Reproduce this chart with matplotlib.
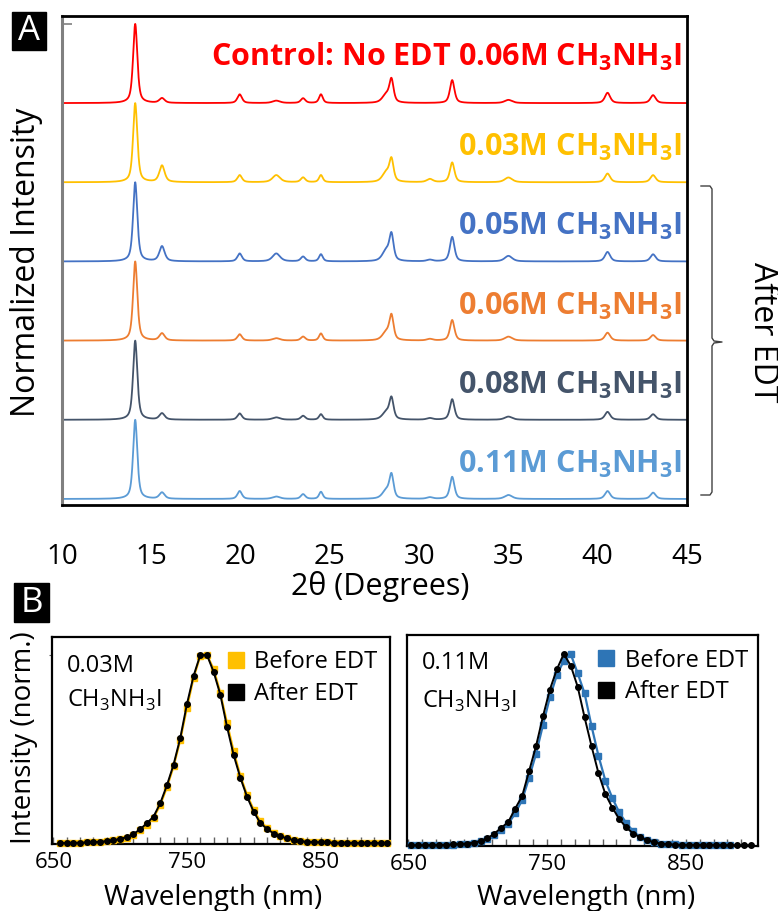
import numpy as np
import matplotlib
matplotlib.use('Agg')
import matplotlib.pyplot as plt
from matplotlib.lines import Line2D
from matplotlib.patches import Rectangle

plt.rcParams['font.family'] = ['Open Sans', 'DejaVu Sans']

# ---------------- Panel A data (XRD) ----------------
peak_pos = [14.1, 15.6, 19.95, 22.0, 23.5, 24.5, 28.15, 28.45, 30.6, 31.85, 35.0, 40.55, 43.1]
peak_fwhm = [0.28, 0.35, 0.30, 0.50, 0.30, 0.25, 0.50, 0.28, 0.40, 0.30, 0.50, 0.35, 0.35]

xrd_labels = ['Control: No EDT 0.06M CH$_\\mathregular{3}$NH$_\\mathregular{3}$I',
              '0.03M CH$_\\mathregular{3}$NH$_\\mathregular{3}$I',
              '0.05M CH$_\\mathregular{3}$NH$_\\mathregular{3}$I',
              '0.06M CH$_\\mathregular{3}$NH$_\\mathregular{3}$I',
              '0.08M CH$_\\mathregular{3}$NH$_\\mathregular{3}$I',
              '0.11M CH$_\\mathregular{3}$NH$_\\mathregular{3}$I']
xrd_colors = ['#FF0000', '#FFC000', '#4472C4', '#ED7D31', '#44546A', '#5B9BD5']
h_control = [1.0, 0.06, 0.11, 0.03, 0.06, 0.11, 0.10, 0.28, 0.00, 0.29, 0.04, 0.13, 0.10]
h_003 = [1.0, 0.21, 0.09, 0.09, 0.06, 0.09, 0.12, 0.27, 0.04, 0.25, 0.06, 0.11, 0.09]
h_005 = [1.0, 0.19, 0.10, 0.10, 0.06, 0.09, 0.13, 0.32, 0.02, 0.31, 0.07, 0.12, 0.09]
h_006 = [1.0, 0.09, 0.08, 0.03, 0.05, 0.09, 0.10, 0.30, 0.02, 0.26, 0.05, 0.10, 0.07]
h_008 = [1.0, 0.08, 0.08, 0.03, 0.05, 0.07, 0.09, 0.26, 0.02, 0.26, 0.04, 0.10, 0.07]
h_011 = [1.0, 0.08, 0.10, 0.03, 0.06, 0.09, 0.10, 0.29, 0.02, 0.28, 0.05, 0.10, 0.08]
xrd_heights = [h_control, h_003, h_005, h_006, h_008, h_011]
xrd_ticks = [10, 15, 20, 25, 30, 35, 40, 45]

# ---------------- Panel B data (PL) ----------------
wl_003 = np.arange(655, 905, 5)
pl_003_before = [.004, .005, .005, .006, .008, .009, .011, .014, .019, .025,
                 .034, .050, .072, .100, .140, .205, .300, .410, .550, .720,
                 .880, .995, 1.0, .925, .800, .640, .490, .360, .260, .180,
                 .120, .085, .058, .042, .032, .022, .016, .012, .010, .009,
                 .008, .007, .006, .006, .006, .005, .005, .005, .005, .005]
pl_003_after = [.005, .005, .006, .007, .008, .010, .012, .015, .020, .027,
                .037, .053, .078, .110, .145, .215, .310, .420, .560, .740,
                .890, 1.0, 1.0, .910, .790, .620, .470, .350, .250, .170,
                .110, .080, .055, .040, .030, .020, .015, .012, .010, .009,
                .008, .007, .007, .006, .006, .005, .005, .005, .005, .005]
wl_011_before = np.arange(652, 887, 5)
pl_011_before = [.005, .004, .004, .004, .005, .005, .007, .009, .012, .018,
                 .024, .036, .055, .082, .115, .170, .240, .355, .480, .630,
                 .775, .890, .965, 1.0, .900, .795, .625, .470, .340, .250,
                 .175, .120, .077, .045, .030, .020, .013, .010, .008, .007,
                 .006, .006, .005, .005, .005, .005, .005]
wl_011_after = np.arange(652, 902, 5)
pl_011_after = [.004, .004, .004, .005, .005, .006, .008, .010, .013, .018,
                .025, .040, .065, .095, .125, .195, .260, .390, .520, .675,
                .815, .920, 1.0, .940, .830, .670, .520, .380, .270, .200,
                .140, .097, .065, .046, .030, .020, .012, .009, .007, .006,
                .005, .005, .005, .005, .004, .004, .004, .004, .004, .004]
pl_ticks = [650, 750, 850]

W, H = 778, 911
fig = plt.figure(figsize=(7.78, 9.11), dpi=100)


def fx(px):
    return px / W


def fy(py):
    return 1 - py / H


# ================= Panel A =================
axA = fig.add_axes([fx(62), fy(505), fx(687) - fx(62), fy(16) - fy(505)])
tt = np.linspace(10, 45, 3501)


def profile(heights):
    y = np.zeros_like(tt)
    for c, w, h in zip(peak_pos, peak_fwhm, heights):
        u = (tt - c) / (w / 2)
        y += h * (0.6 / (1 + u ** 2) + 0.4 * np.exp(-np.log(2) * u ** 2))
    return y / y.max()


n = len(xrd_heights)
for i, (hts, col, lab) in enumerate(zip(xrd_heights, xrd_colors, xrd_labels)):
    off = n - 1 - i
    axA.plot(tt, profile(hts) + off, color=col, lw=1.3)
    dy = 0.47 if i == 0 else 0.33
    axA.text(44.72, off + dy, lab, color=col, fontsize=22, fontweight='bold',
             ha='right', va='baseline')

axA.set_xlim(10, 45)
axA.set_ylim(-0.076, 6.10)
axA.set_xticks(xrd_ticks)
axA.tick_params(axis='x', length=0, pad=27, labelsize=20)
axA.set_yticks([6.0])
axA.tick_params(axis='y', direction='in', length=7, width=1.2, color='#808080', labelleft=False)
for s in ['top', 'right', 'bottom']:
    axA.spines[s].set_color('black')
    axA.spines[s].set_linewidth(2)
axA.spines['left'].set_color('#808080')
axA.spines['left'].set_linewidth(2.2)

fig.text(fx(380), fy(587), '2θ (Degrees)', fontsize=22, ha='center', va='center')
fig.text(fx(27), fy(262), 'Normalized Intensity', fontsize=23, ha='center', va='center', rotation=90)
fig.text(fx(762), fy(332), 'After EDT', fontsize=23, ha='center', va='center', rotation=-90)

# bracket
bx = np.array([701, 710, 712, 712, 714, 722, 714, 712, 712, 710, 701])
by = np.array([186, 186, 189, 338, 341, 342, 343, 346, 492, 495, 495])
fig.add_artist(Line2D(fx(bx), fy(by), transform=fig.transFigure, color='#404040', lw=1.0))

# panel letters
fig.add_artist(Rectangle((fx(12), fy(50)), fx(46) - fx(12), fy(12) - fy(50),
                         transform=fig.transFigure, color='black'))
fig.text(fx(29), fy(31), 'A', color='white', fontsize=25, ha='center', va='center')
fig.add_artist(Rectangle((fx(14), fy(622)), fx(49) - fx(14), fy(583) - fy(622),
                         transform=fig.transFigure, color='black'))
fig.text(fx(31.5), fy(603), 'B', color='white', fontsize=25, ha='center', va='center')

# ================= Panel B =================
axB1 = fig.add_axes([fx(52), fy(844), fx(390) - fx(52), fy(637) - fy(844)])
axB2 = fig.add_axes([fx(407), fy(846), fx(758) - fx(407), fy(635) - fy(846)])

gold = '#FFC000'
blue = '#2E75B6'

axB1.plot(wl_003, pl_003_before, color=gold, lw=1.6, marker='s', ms=4.8, mec=gold, clip_on=False, zorder=3)
axB1.plot(wl_003, pl_003_after, color='black', lw=1.4, marker='o', ms=4.0, clip_on=False, zorder=4)
axB2.plot(wl_011_before, pl_011_before, color=blue, lw=1.6, marker='s', ms=4.8, mec=blue, clip_on=False, zorder=3)
axB2.plot(wl_011_after, pl_011_after, color='black', lw=1.4, marker='o', ms=4.0, clip_on=False, zorder=4)

for ax, ytop, conc, tx, y1, y2, legx, legc in [
        (axB1, 1.095, '0.03M', 0.044, 0.83, 0.665, 0.515, gold),
        (axB2, 1.099, '0.11M', 0.042, 0.84, 0.655, 0.54, blue)]:
    ax.set_xlim(649, 902)
    ax.set_ylim(0.0, ytop)
    ax.set_xticks(pl_ticks)
    ax.set_xticks(np.arange(660, 900, 10), minor=True)
    ax.tick_params(axis='x', which='both', direction='in', length=5, width=1,
                   color='#606060', labelsize=16, pad=6)
    ax.tick_params(axis='x', which='minor', labelbottom=False)
    ax.set_yticks([])
    for s in ax.spines.values():
        s.set_color('black')
        s.set_linewidth(1.6)
    ax.text(tx, y1, conc, transform=ax.transAxes, fontsize=17, ha='left', va='baseline')
    ax.text(tx, y2, 'CH$_\\mathregular{3}$NH$_\\mathregular{3}$I', transform=ax.transAxes,
            fontsize=17, ha='left', va='baseline')
    handles = [Line2D([], [], ls='none', marker='s', ms=11, color=legc),
               Line2D([], [], ls='none', marker='s', ms=11, color='black')]
    ax.legend(handles, ['Before EDT', 'After EDT'], loc='upper left',
              bbox_to_anchor=(legx, 0.935), frameon=False, fontsize=17,
              handlelength=0.8, handletextpad=0.4, borderpad=0, borderaxespad=0,
              labelspacing=0.32)

axB1.set_yticks([1.0])
axB1.tick_params(axis='y', direction='out', length=2, color='#606060', labelleft=False)

fig.text(fx(213), fy(898), 'Wavelength (nm)', fontsize=20, ha='center', va='center')
fig.text(fx(586), fy(898), 'Wavelength (nm)', fontsize=20, ha='center', va='center')
fig.text(fx(24), fy(738), 'Intensity (norm.)', fontsize=20, ha='center', va='center', rotation=90)

fig.savefig('out.png', dpi=100)
